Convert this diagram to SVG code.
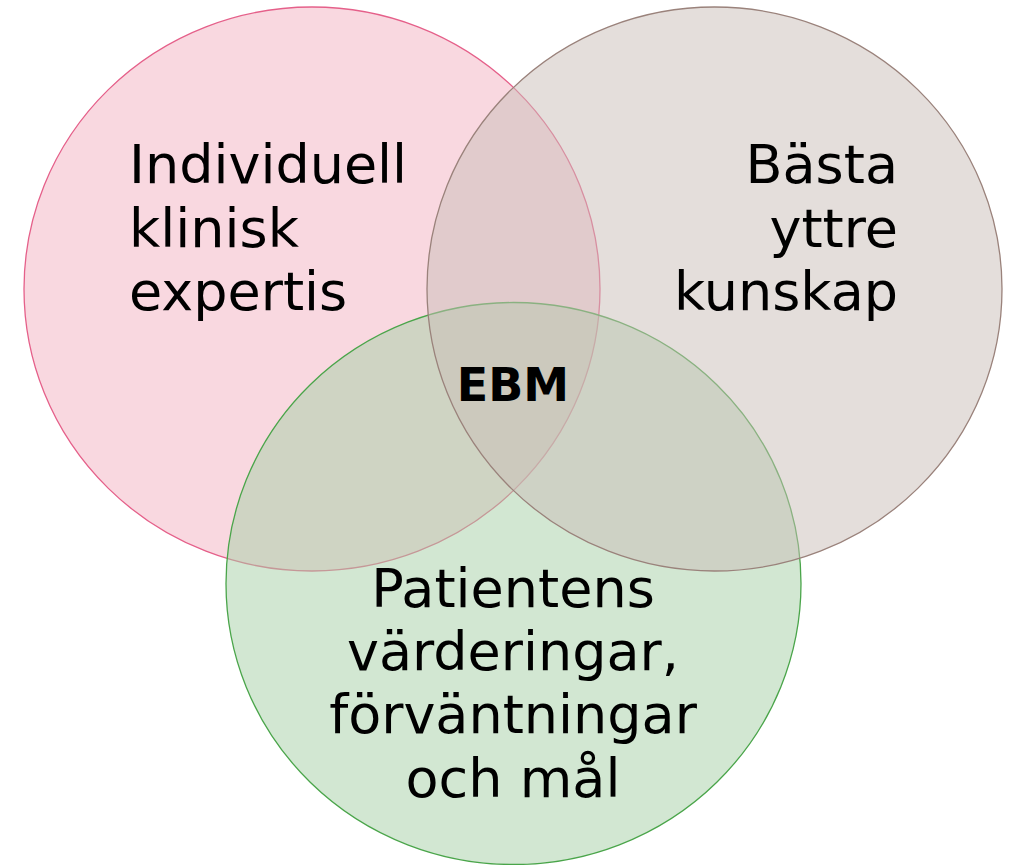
<svg xmlns="http://www.w3.org/2000/svg" width="1015" height="865" viewBox="0 0 1015 865">
<style>
.c{fill-opacity:0.5;stroke-width:1.3}
.t{font-family:"DejaVu Sans","Verdana",sans-serif;font-size:54px;fill:#000}
.b{font-family:"DejaVu Sans","Verdana",sans-serif;font-size:46px;font-weight:bold;fill:#000}
</style>
<rect width="1015" height="865" fill="#ffffff"/>
<g id="pink">
<ellipse class="c" cx="312" cy="289" rx="288" ry="282" fill="#f3b1c1" stroke="#e5608a"/>
</g>
<g id="green">
<ellipse class="c" cx="513.5" cy="583.5" rx="287.5" ry="281" fill="#a5cfa5" stroke="#4aa54a"/>
</g>
<g id="gray">
<ellipse class="c" cx="714.5" cy="289" rx="287.5" ry="282" fill="#c9bdb7" stroke="#9a827b"/>
</g>
<g id="connectors"></g>
<g id="label-pink">
<text class="t" x="129" y="183">Individuell</text>
<text class="t" x="129" y="247">klinisk</text>
<text class="t" x="129" y="310">expertis</text>
</g>
<g id="label-gray">
<text class="t" x="898" y="183" text-anchor="end">Bästa</text>
<text class="t" x="898" y="247" text-anchor="end">yttre</text>
<text class="t" x="898" y="310" text-anchor="end">kunskap</text>
</g>
<g id="label-green">
<text class="t" x="513" y="607" text-anchor="middle">Patientens</text>
<text class="t" x="513" y="670" text-anchor="middle">värderingar,</text>
<text class="t" x="513" y="733" text-anchor="middle">förväntningar</text>
<text class="t" x="513" y="797" text-anchor="middle">och mål</text>
</g>
<g id="ebm">
<text class="b" x="513" y="401" text-anchor="middle">EBM</text>
</g>
</svg>
